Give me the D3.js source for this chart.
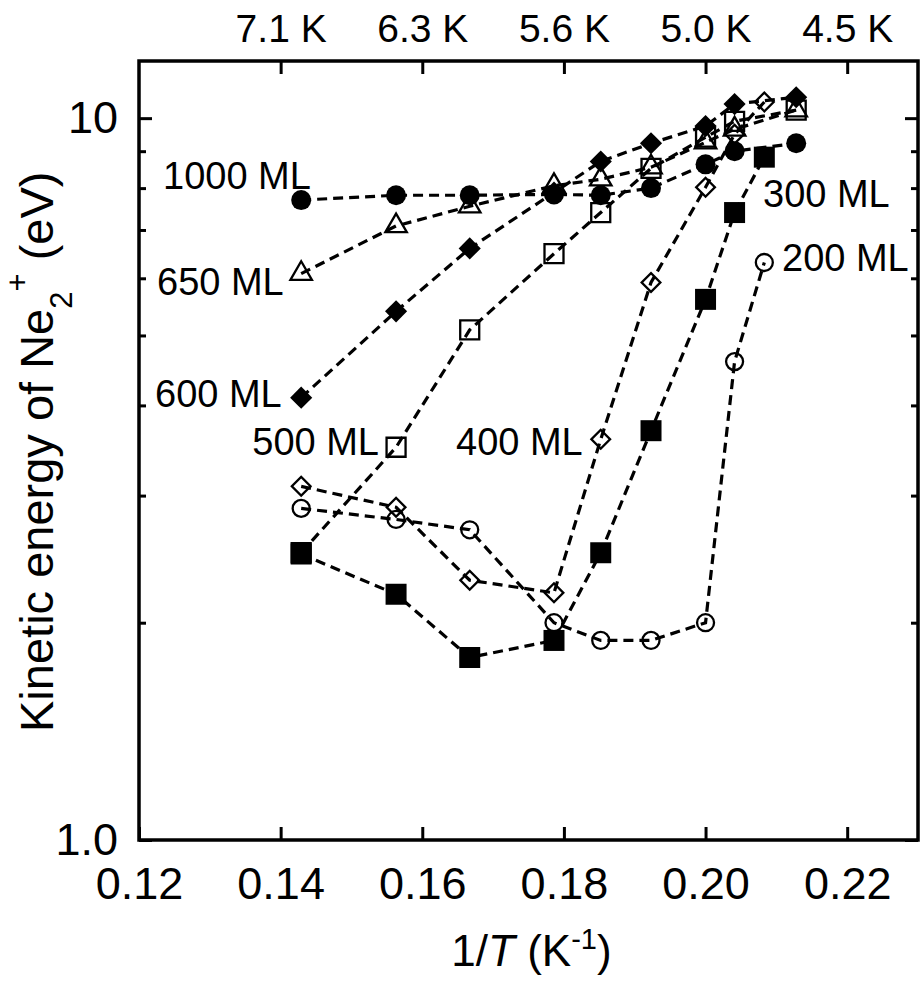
<!DOCTYPE html>
<html>
<head>
<meta charset="utf-8">
<script src="https://cdn.jsdelivr.net/npm/d3@7"></script>
<style>
  body { margin: 0; background: #fff; }
  text { font-family: "Liberation Sans", Arial, sans-serif; fill: #000; }
</style>
</head>
<body>
<div id="chart"></div>
<script>
// 1/T positions of the measurements (K^-1)
var invT = [0.1429, 0.1563, 0.1667, 0.1786, 0.1852, 0.1923, 0.2000, 0.2041, 0.2128];
var invTLow = [0.1429, 0.1563, 0.1667, 0.1786, 0.1852, 0.1923, 0.2000, 0.2041, 0.2083];

// kinetic energy of Ne2+ (eV) for each film thickness
var ke1000 = [7.70, 7.82, 7.82, 7.84, 7.82, 8.00, 8.63, 9.00, 9.23];
var ke650  = [6.09, 7.09, 7.55, 8.06, 8.23, 8.55, 9.26, 9.65, 10.26];
var ke600  = [4.10, 5.40, 6.60, 7.89, 8.71, 9.23, 9.75, 10.46, 10.69];
var ke500  = [2.50, 3.50, 5.09, 6.49, 7.40, 8.52, 9.41, 9.90, 10.26];
var ke400  = [3.09, 2.89, 2.29, 2.20, 3.59, 5.92, 8.02, 9.50, 10.53];
var ke300  = [2.49, 2.19, 1.79, 1.89, 2.50, 3.69, 5.61, 7.40, 8.83];
var ke200  = [2.88, 2.78, 2.69, 2.00, 1.89, 1.89, 2.00, 4.60, 6.31];

var xTicks = [0.12, 0.14, 0.16, 0.18, 0.20, 0.22];
var topTicks = [0.14, 0.16, 0.18, 0.20, 0.22];
var topLabels = ["7.1 K", "6.3 K", "5.6 K", "5.0 K", "4.5 K"];
var yMajor = [1, 10];
var yMajorLabels = ["1.0", "10"];
var yMinor = [2, 3, 4, 5, 6, 7, 8, 9];

var series = [
  {name: "200 ML",  x: invTLow, y: ke200,  shape: "circle",  filled: false},
  {name: "300 ML",  x: invTLow, y: ke300,  shape: "square",  filled: true},
  {name: "400 ML",  x: invTLow, y: ke400,  shape: "diamond", filled: false},
  {name: "500 ML",  x: invT,    y: ke500,  shape: "square",  filled: false},
  {name: "650 ML",  x: invT,    y: ke650,  shape: "triangle", filled: false},
  {name: "1000 ML", x: invT,    y: ke1000, shape: "circle",  filled: true},
  {name: "600 ML",  x: invT,    y: ke600,  shape: "diamond", filled: true}
];

var width = 920, height = 982;
var margin = {top: 61, right: 2, bottom: 142, left: 139};

var svg = d3.select("#chart")
  .append("svg")
  .attr("width", width)
  .attr("height", height);

var x = d3.scaleLinear()
  .domain([0.12, 0.23])
  .range([margin.left, width - margin.right]);

var y = d3.scaleLog()
  .domain([1, 12])
  .range([height - margin.bottom, margin.top]);

var x0 = margin.left, x1 = width - margin.right;
var y0 = height - margin.bottom, y1 = margin.top;

// axes
var gBottom = svg.append("g")
  .attr("transform", "translate(0," + y0 + ")")
  .call(d3.axisBottom(x).tickValues(xTicks).tickSize(-13).tickPadding(27)
    .tickFormat(d3.format(".2f")));

var gTop = svg.append("g")
  .attr("transform", "translate(0," + y1 + ")")
  .call(d3.axisTop(x).tickValues(topTicks).tickSize(-13).tickPadding(19)
    .tickFormat(function(d, i) { return topLabels[i]; }));

var gLeft = svg.append("g")
  .attr("transform", "translate(" + x0 + ",0)")
  .call(d3.axisLeft(y).tickValues(yMajor).tickSize(-13).tickPadding(21)
    .tickFormat(function(d, i) { return yMajorLabels[i]; }));

svg.append("g")
  .attr("transform", "translate(" + x0 + ",0)")
  .call(d3.axisLeft(y).tickValues(yMinor).tickSize(-7).tickFormat(""));

svg.append("g")
  .attr("transform", "translate(" + x1 + ",0)")
  .call(d3.axisRight(y).tickValues(yMajor).tickSize(-13).tickFormat(""));

svg.append("g")
  .attr("transform", "translate(" + x1 + ",0)")
  .call(d3.axisRight(y).tickValues(yMinor).tickSize(-7).tickFormat(""));

svg.selectAll(".domain").remove();
svg.selectAll(".tick line").attr("stroke", "#000").attr("stroke-width", 3);
gBottom.selectAll("text").style("font-size", "45px");
gLeft.selectAll("text").style("font-size", "45px");
gTop.selectAll("text").style("font-size", "39px");

// frame
svg.append("rect")
  .attr("x", x0).attr("y", y1)
  .attr("width", x1 - x0).attr("height", y0 - y1)
  .attr("fill", "none")
  .attr("stroke", "#000")
  .attr("stroke-width", 3.5);

// axis titles
var xt = svg.append("text")
  .attr("x", (x0 + x1) / 2 + 3)
  .attr("y", 966)
  .attr("text-anchor", "middle")
  .style("font-size", "44px");
xt.append("tspan").text("1/");
xt.append("tspan").style("font-style", "italic").text("T");
xt.append("tspan").text(" (K");
xt.append("tspan").attr("dy", -17).style("font-size", "29px").text("-1");
xt.append("tspan").attr("dy", 17).text(")");

var yt = svg.append("text")
  .attr("transform", "translate(53,732) rotate(-90)")
  .attr("text-anchor", "start")
  .style("font-size", "47px");
yt.append("tspan").text("Kinetic energy of Ne");
yt.append("tspan").attr("dy", 19).style("font-size", "31px").text("2");
yt.append("tspan").attr("dy", -44).style("font-size", "31px").text("+");
yt.append("tspan").attr("dy", 25).text(" (eV)");

// series lines
var line = d3.line()
  .x(function(d) { return x(d[0]); })
  .y(function(d) { return y(d[1]); });

series.forEach(function(s) {
  var pts = s.x.map(function(v, i) { return [v, s.y[i]]; });
  svg.append("path")
    .datum(pts)
    .attr("d", line)
    .attr("fill", "none")
    .attr("stroke", "#000")
    .attr("stroke-width", 3.2)
    .attr("stroke-dasharray", "10,6");
});

// markers
function markerPath(shape, filled) {
  if (shape === "circle") return d3.symbol(d3.symbolCircle, filled ? 314 : 227)();
  if (shape === "square") return d3.symbol(d3.symbolSquare, filled ? 441 : 361)();
  if (shape === "diamond") return d3.symbol(d3.symbolSquare, filled ? 245 : 175)();
  return d3.symbol(d3.symbolTriangle, 200)();
}

series.forEach(function(s) {
  svg.append("g")
    .selectAll("path")
    .data(s.x.map(function(v, i) { return [v, s.y[i]]; }))
    .enter()
    .append("path")
      .attr("d", markerPath(s.shape, s.filled))
      .attr("transform", function(d) {
        return "translate(" + x(d[0]) + "," + y(d[1]) + ")" +
          (s.shape === "diamond" ? " rotate(45)" : "");
      })
      .attr("fill", s.filled ? "#000" : "none")
      .attr("stroke", "#000")
      .attr("stroke-width", s.filled ? 0 : 2.3);
});

// series labels
var labels = [
  {text: "1000 ML", px: 163, py: 189, anchor: "start"},
  {text: "650 ML",  px: 157, py: 295, anchor: "start"},
  {text: "600 ML",  px: 155, py: 407, anchor: "start"},
  {text: "500 ML",  px: 379, py: 455, anchor: "end"},
  {text: "400 ML",  px: 456, py: 455, anchor: "start"},
  {text: "300 ML",  px: 763, py: 207, anchor: "start"},
  {text: "200 ML",  px: 782, py: 271, anchor: "start"}
];

svg.append("g")
  .selectAll("text")
  .data(labels)
  .enter()
  .append("text")
    .attr("x", function(d) { return d.px; })
    .attr("y", function(d) { return d.py; })
    .attr("text-anchor", function(d) { return d.anchor; })
    .style("font-size", "38px")
    .text(function(d) { return d.text; });
</script>
</body>
</html>
